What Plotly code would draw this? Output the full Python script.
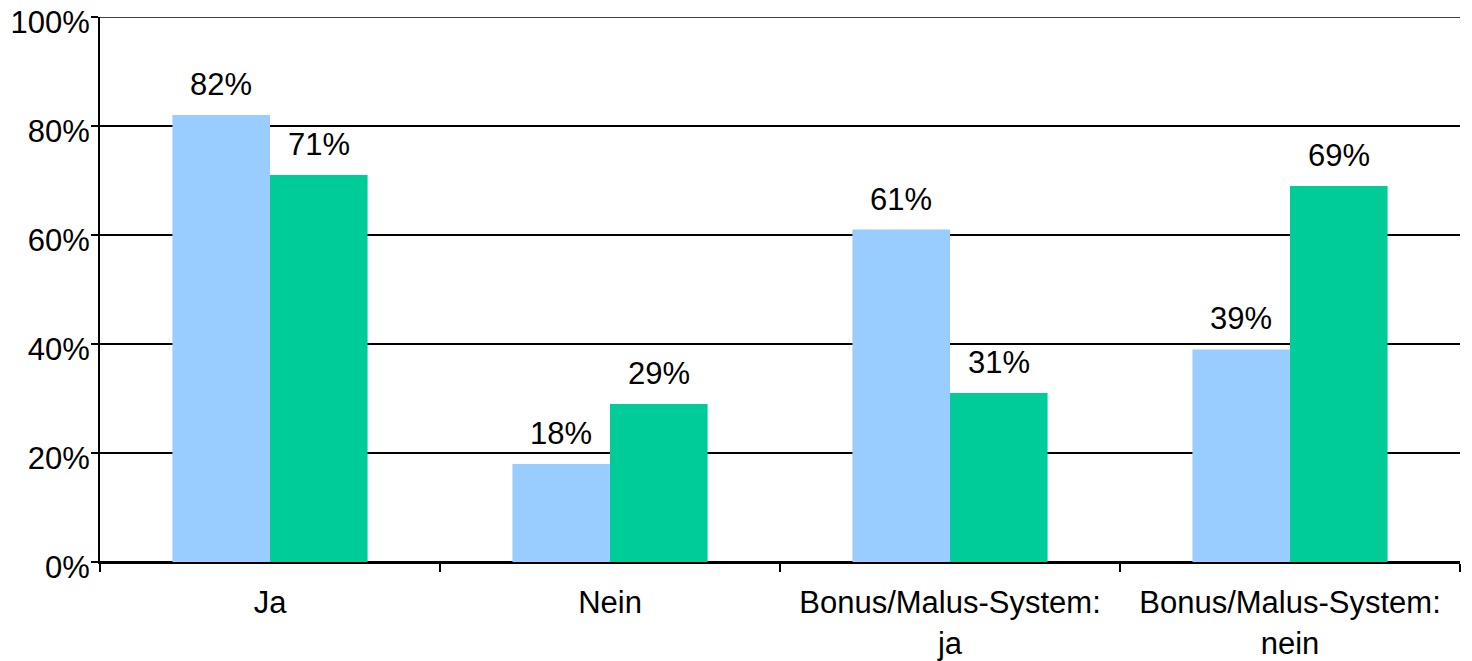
import plotly.graph_objects as go

categories = ["Ja", "Nein", "Bonus/Malus-System:<br>ja", "Bonus/Malus-System:<br>nein"]
series_a = [82, 18, 61, 39]
series_b = [71, 29, 31, 69]
y_ticks = [0, 20, 40, 60, 80, 100]
y_ticklabels = [f"{v}%" for v in y_ticks]

FONT = "Liberation Sans, Arial, sans-serif"
FS = 31

fig = go.Figure()
fig.add_trace(go.Bar(x=categories, y=series_a, marker_color="#99CCFF", marker_line_width=0, name="A"))
fig.add_trace(go.Bar(x=categories, y=series_b, marker_color="#00CC99", marker_line_width=0, name="B"))

off = 0.1435
for i, (a, b) in enumerate(zip(series_a, series_b)):
    for xo, v in ((i - off, a), (i + off, b)):
        fig.add_annotation(x=xo, y=v, xref="x", yref="y", text=f"{v}%", showarrow=False,
                           yanchor="bottom", yshift=11, font=dict(family=FONT, size=FS, color="black"))

# top gridline at 100%
fig.add_shape(type="line", xref="paper", yref="y", x0=0, x1=1, y0=y_ticks[-1], y1=y_ticks[-1],
              line=dict(color="black", width=1.5))

fig.update_layout(
    width=1472, height=661,
    margin=dict(l=100, r=12, t=17, b=99, autoexpand=False),
    paper_bgcolor="white", plot_bgcolor="white",
    barmode="group", bargap=0.426, bargroupgap=0,
    showlegend=False,
    font=dict(family=FONT, size=FS, color="black"),
)
fig.update_xaxes(
    type="category", range=[-0.5, 3.5], automargin=False,
    showline=True, linecolor="black", linewidth=2,
    ticks="outside", tickson="boundaries", ticklen=8, tickcolor="black", tickwidth=1.5,
    ticklabelstandoff=12, ticklabeloverflow="allow",
    showgrid=False, tickfont=dict(family=FONT, size=FS, color="black"),
)
fig.update_yaxes(
    range=[0, 100], tickvals=y_ticks, ticktext=y_ticklabels, automargin=False,
    showline=True, linecolor="black", linewidth=2,
    ticks="outside", ticklen=7, tickcolor="black", tickwidth=1.5,
    ticklabelstandoff=-5, ticklabelshift=5, ticklabeloverflow="allow",
    showgrid=True, gridcolor="black", gridwidth=1.5,
    zeroline=True, zerolinecolor="black", zerolinewidth=2,
    tickfont=dict(family=FONT, size=FS, color="black"),
)

fig.write_html(
    "out.html",
    config={"displayModeBar": False},
    post_script="document.body.style.margin='0';document.body.style.overflow='hidden';",
)
